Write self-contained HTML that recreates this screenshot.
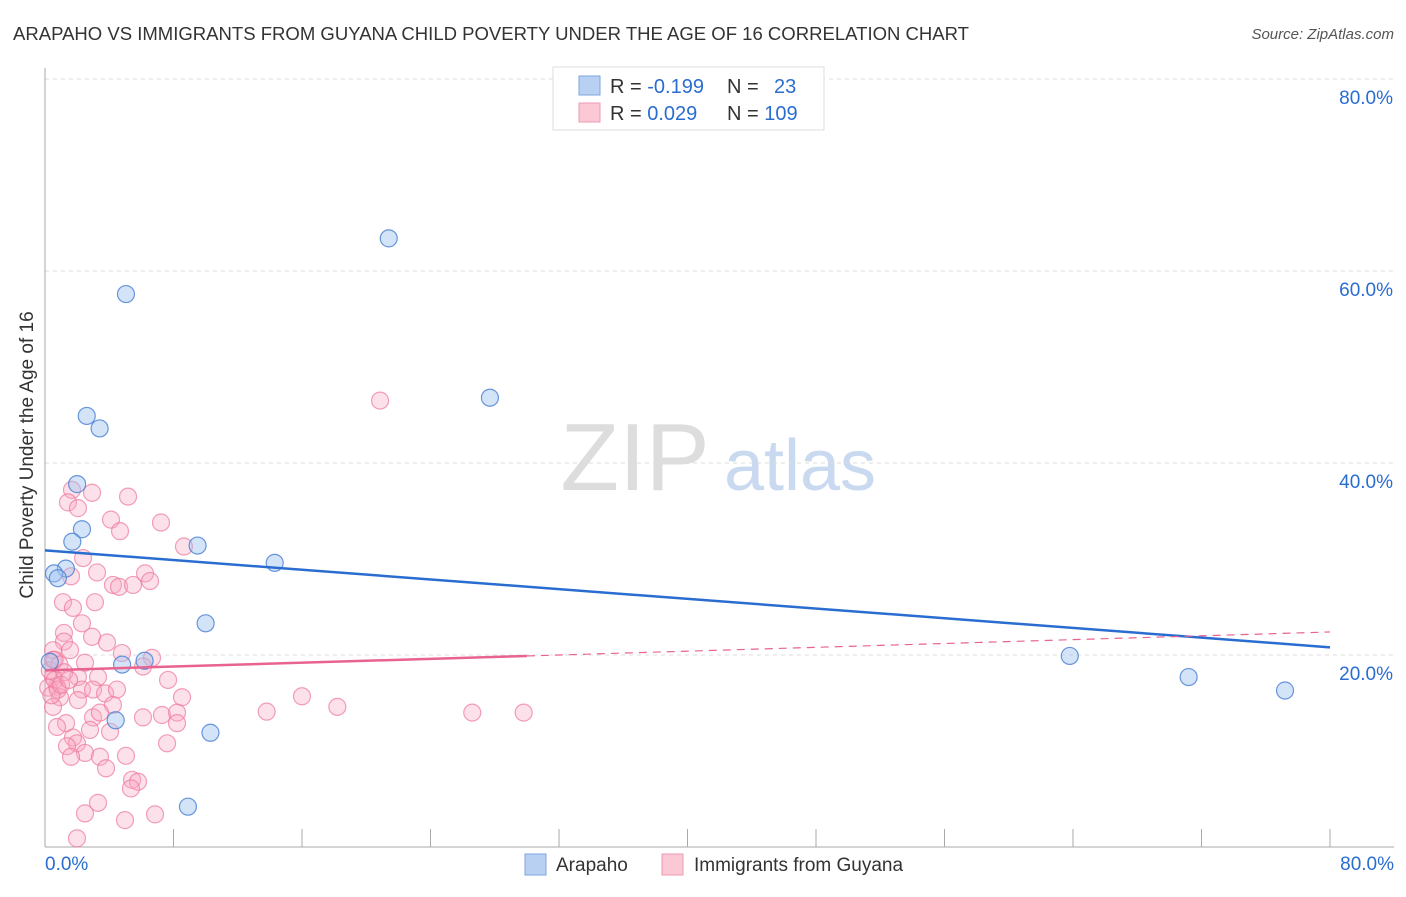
<!DOCTYPE html>
<html><head><meta charset="utf-8"><style>
body{margin:0;background:#fff;font-family:"Liberation Sans",sans-serif;}
svg text{font-family:"Liberation Sans",sans-serif;}
</style></head><body>
<svg id="chart" width="1406" height="892">
<text x="13" y="40" font-size="18" fill="#333" textLength="956" lengthAdjust="spacingAndGlyphs">ARAPAHO VS IMMIGRANTS FROM GUYANA CHILD POVERTY UNDER THE AGE OF 16 CORRELATION CHART</text>
<text x="1394" y="39" font-size="15" fill="#555" font-style="italic" text-anchor="end">Source: ZipAtlas.com</text>
<text x="33" y="455" font-size="19" fill="#333" text-anchor="middle" transform="rotate(-90 33 455)">Child Poverty Under the Age of 16</text>
<g><text x="635" y="490" font-size="96" fill="#ddd" font-family="Liberation Serif" text-anchor="middle">ZIP</text><text x="800" y="490" font-size="72" fill="#c9d9ef" text-anchor="middle">atlas</text></g>
<g id="grid"></g><g id="axes"></g><g id="marks"></g><g id="lines"></g>
<g>
<rect x="553" y="67" width="271" height="63" fill="#fff" stroke="#ddd"/>
<rect x="579" y="76" width="21" height="19" fill="#b8d1f3" stroke="#7ea6e0"/>
<rect x="579" y="103" width="21" height="19" fill="#fbc8d6" stroke="#ef9ab3"/>
<text x="610" y="93" font-size="20" fill="#333">R = <tspan fill="#2a6dd0">-0.199</tspan></text>
<text x="727" y="93" font-size="20" fill="#333">N = <tspan x="774" fill="#2a6dd0">23</tspan></text>
<text x="610" y="120" font-size="20" fill="#333">R = <tspan fill="#2a6dd0"> 0.029</tspan></text>
<text x="727" y="120" font-size="20" fill="#333">N = <tspan fill="#2a6dd0">109</tspan></text>
</g>
<g>
<rect x="525" y="854" width="21" height="21" fill="#b8d1f3" stroke="#7ea6e0"/>
<text x="556" y="871" font-size="19" fill="#333">Arapaho</text>
<rect x="662" y="854" width="21" height="21" fill="#fbc8d6" stroke="#ef9ab3"/>
<text x="694" y="871" font-size="19" fill="#333">Immigrants from Guyana</text>
</g>
</svg>
<script>
const blueX=[5.04,21.4,27.7,2.6,3.4,2.0,2.3,1.7,9.5,14.3,1.3,0.56,0.8,10.0,4.8,6.2,4.4,10.3,8.9,63.8,71.2,77.2,0.3];
const blueY=[57.6,63.4,46.8,44.9,43.6,37.8,33.1,31.8,31.4,29.6,29.0,28.5,28.0,23.3,19.0,19.4,13.2,11.9,4.2,19.9,17.7,16.3,19.3];
const pinkX=[1.68,1.43,2.05,2.93,5.17,4.11,4.67,7.22,8.65,2.37,3.24,1.62,4.23,4.61,5.48,6.23,6.54,1.12,3.11,1.74,2.30,1.18,1.18,1.56,2.93,3.86,4.79,6.66,6.10,0.5,0.5,0.5,0.75,0.93,0.5,2.49,2.05,2.30,3.30,2.99,3.74,4.48,7.66,8.53,2.05,4.23,6.10,7.28,8.22,8.22,2.99,3.42,2.80,4.05,1.31,0.75,1.74,1.99,1.37,2.49,1.62,3.42,5.04,7.60,3.80,5.42,5.79,5.35,3.30,2.49,4.98,6.85,1.99,20.86,16.0,18.2,26.6,29.8,13.8,0.3,0.6,0.2,0.9,1.2,0.8,0.4,1.0,1.5,0.6];
const pinkY=[37.2,35.9,35.3,36.9,36.5,34.1,32.9,33.8,31.3,30.1,28.6,28.2,27.3,27.1,27.3,28.5,27.7,25.5,25.5,24.9,23.3,22.3,21.4,20.5,21.9,21.3,20.2,19.7,18.8,20.5,19.5,17.7,16.7,15.6,14.6,19.2,17.7,16.4,17.7,16.4,16.0,16.4,17.4,15.6,15.3,14.8,13.5,13.75,14.0,12.9,13.5,14.0,12.2,12.0,12.9,12.5,11.4,10.8,10.5,9.8,9.4,9.4,9.5,10.8,8.2,7.0,6.8,6.1,4.6,3.5,2.8,3.4,0.9,46.5,15.7,14.6,14.0,14.0,14.1,18.4,17.4,16.6,19.0,18.2,16.4,15.8,16.9,17.4,19.5];
const yTicks=[20,40,60,80];
const xTickVals=[0,8,16,24,32,40,48,56,64,72,80];
const blueTrend=[30.9,20.8];
const pinkTrend=[18.4,22.4]; const pinkSolidEnd=30;
const NS="http://www.w3.org/2000/svg";
const X=v=>45+v/80*1285, Y=v=>847-v*9.6;
function mk(t,a,p){const e=document.createElementNS(NS,t);for(const k in a)e.setAttribute(k,a[k]);p.appendChild(e);return e;}
const grid=document.getElementById('grid'),axes=document.getElementById('axes'),marks=document.getElementById('marks'),lines=document.getElementById('lines');
yTicks.forEach(v=>{const l=mk('line',{x1:45,x2:1394,y1:Y(v),y2:Y(v),stroke:'#ddd','stroke-dasharray':'4,4'},grid);


const t=mk('text',{x:1393,y:Y(v)+25,'font-size':19,fill:'#2a6dd0','text-anchor':'end'},axes);t.textContent=v.toFixed(1)+'%';

});
const ax=mk('line',{x1:45,x2:1394,y1:847,y2:847,stroke:'#aaa'},axes);


const ay=mk('line',{x1:45,x2:45,y1:68,y2:847,stroke:'#aaa'},axes);


xTickVals.forEach(v=>{const l=mk('line',{x1:X(v),x2:X(v),y1:829,y2:847,stroke:'#aaa'},axes);

});
[[0,'start'],[80,'end']].forEach(([v,a])=>{const t=mk('text',{x:v?1394:45,y:870,'font-size':19,fill:'#2a6dd0','text-anchor':a},axes);t.textContent=v.toFixed(1)+'%';

});
pinkX.forEach((x,i)=>{const c=mk('circle',{cx:X(x),cy:Y(pinkY[i]),r:8.5,fill:'rgba(248,170,195,0.35)',stroke:'rgba(236,120,155,0.7)','stroke-width':1.2},marks);

});
blueX.forEach((x,i)=>{const c=mk('circle',{cx:X(x),cy:Y(blueY[i]),r:8.5,fill:'rgba(160,195,240,0.45)',stroke:'rgba(70,125,210,0.8)','stroke-width':1.2},marks);

});
const bl=mk('line',{x1:X(0),y1:Y(blueTrend[0]),x2:X(80),y2:Y(blueTrend[1]),stroke:'#2a6dd0','stroke-width':2.5},lines);


const py=x=>pinkTrend[0]+(pinkTrend[1]-pinkTrend[0])*x/80;
const pl=mk('line',{x1:X(0),y1:Y(py(0)),x2:X(pinkSolidEnd),y2:Y(py(pinkSolidEnd)),stroke:'#e8638f','stroke-width':2.5},lines);


const pd=mk('line',{x1:X(pinkSolidEnd),y1:Y(py(pinkSolidEnd)),x2:X(80),y2:Y(py(80)),stroke:'#e8638f','stroke-width':1.2,'stroke-dasharray':'8,6'},lines);


</script>
</body></html>
